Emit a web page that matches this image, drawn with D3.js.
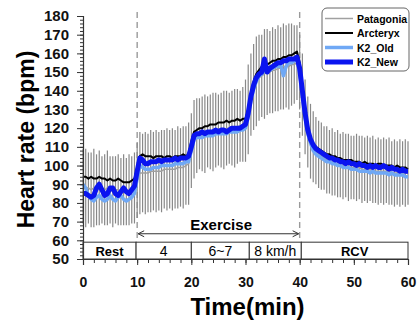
<!DOCTYPE html>
<html lang="en">
<head>
<meta charset="UTF-8">
<title>Heart rate</title>
<script src="https://d3js.org/d3.v7.min.js"></script>
<style>
  body { margin: 0; background: #fff; }
  svg { font-family: Arial, "Liberation Sans", sans-serif; }
</style>
</head>
<body>
<div id="chart"></div>
<script>
// samples every 0.5 min, from 0 to 60 min
var step = 0.5;

var patagonia = [
  89, 88, 88, 87, 88, 87, 88, 87, 87, 88, 87, 86, 87, 87, 86, 87, 86, 87, 87, 88,
  92, 96, 96, 96, 96, 97, 97, 97, 97, 97, 98, 98, 98, 98, 98, 99, 99, 99, 100, 101,
  108, 114, 116, 117, 117, 117, 118, 118, 118, 119, 119, 119, 119, 120, 120, 120, 120, 121, 121, 122,
  124, 130, 138, 142, 145, 147, 148, 149, 150, 150, 151, 151, 152, 152, 153, 153, 153, 154, 154, 155,
  150, 138, 126, 118, 113, 110, 108, 106, 105, 104, 103, 102, 102, 101, 101, 100, 100, 100, 99, 99,
  99, 99, 99, 98, 98, 98, 98, 98, 97, 97, 97, 97, 97, 97, 96, 96, 96, 96, 96, 96, 96
];
var patagoniaSD = [
  20, 21, 19, 20, 21, 19, 20, 18, 19, 20, 18, 19, 18, 19, 18, 19, 18, 19, 18, 19,
  20, 22, 21, 22, 21, 22, 21, 22, 21, 22, 21, 22, 21, 22, 21, 22, 21, 22, 21, 22,
  20, 21, 20, 19, 20, 21, 19, 20, 21, 20, 19, 20, 21, 20, 19, 20, 21, 20, 19, 20,
  22, 24, 22, 23, 24, 23, 22, 24, 23, 22, 23, 22, 23, 22, 23, 22, 23, 22, 21, 20,
  20, 22, 20, 19, 20, 19, 18, 18, 18, 17, 18, 17, 18, 17, 18, 17, 18, 17, 18, 17,
  17, 18, 17, 18, 17, 18, 17, 18, 17, 18, 17, 18, 17, 18, 17, 18, 17, 18, 17, 18, 17
];
var arcteryx = [
  94, 94, 93, 94, 93, 93, 94, 93, 93, 92, 93, 92, 92, 93, 92, 91, 91, 91, 92, 93,
  99, 105, 106, 105, 105, 105, 104, 105, 105, 105, 104, 105, 105, 104, 105, 105, 105, 106, 105, 106,
  113, 118, 119, 120, 120, 121, 121, 122, 122, 122, 123, 123, 123, 124, 123, 124, 124, 125, 124, 125,
  125, 130, 138, 145, 149, 151, 153, 154, 154, 155, 156, 156, 157, 157, 158, 158, 159, 159, 160, 161,
  155, 142, 129, 120, 114, 111, 110, 109, 108, 107, 106, 106, 105, 105, 104, 104, 103, 103, 103, 103,
  102, 102, 102, 101, 102, 101, 101, 101, 100, 101, 101, 100, 100, 100, 100, 99, 100, 99, 99, 99, 98
];
var k2Old = [
  90, 88, 84, 82, 81, 83, 84, 82, 81, 82, 84, 82, 81, 83, 84, 82, 81, 82, 83, 85,
  93, 100, 99, 98, 98, 98, 99, 99, 99, 100, 100, 100, 100, 100, 101, 101, 101, 101, 102, 102,
  108, 114, 115, 115, 115, 116, 116, 116, 116, 117, 117, 117, 117, 117, 118, 118, 118, 118, 119, 119,
  120, 126, 135, 141, 145, 148, 149, 151, 150, 151, 152, 153, 153, 154, 148, 153, 155, 155, 156, 157,
  150, 138, 126, 117, 112, 108, 106, 105, 104, 103, 102, 102, 101, 101, 100, 100, 99, 99, 99, 98,
  98, 98, 97, 97, 97, 97, 96, 97, 96, 96, 96, 96, 96, 95, 96, 95, 95, 95, 95, 94, 94
];
var k2New = [
  85, 85, 84, 83, 84, 88, 90, 87, 84, 85, 88, 88, 85, 84, 86, 88, 86, 85, 87, 89,
  97, 104, 103, 101, 101, 102, 102, 102, 103, 102, 103, 103, 103, 103, 104, 103, 104, 104, 104, 105,
  110, 116, 117, 117, 118, 117, 118, 118, 118, 119, 118, 119, 119, 118, 119, 120, 120, 120, 120, 121,
  122, 128, 137, 143, 147, 149, 150, 157, 150, 152, 153, 154, 155, 155, 156, 156, 157, 157, 157, 158,
  152, 140, 128, 119, 114, 111, 109, 108, 107, 106, 105, 104, 104, 103, 103, 102, 102, 101, 102, 101,
  101, 100, 101, 100, 100, 99, 100, 99, 100, 99, 99, 100, 99, 98, 99, 98, 98, 97, 98, 97, 97
];

var seriesNames = ["Patagonia", "Arcteryx", "K2_Old", "K2_New"];
var seriesColors = ["#a0a0a0", "#000000", "#6fa8f5", "#0a14f0"];
var seriesWidths = [1.5, 2, 3.5, 5];

var phaseLabels = ["Rest", "4", "6~7", "8 km/h", "RCV"];
var phaseStarts = [0, 9.8, 20, 30.7, 40.3];
var phaseEnds = [9.8, 20, 30.7, 40.3, 60];
var phaseBold = [true, false, false, false, true];

var xTicks = [0, 10, 20, 30, 40, 50, 60];
var yTicks = [50, 60, 70, 80, 90, 100, 110, 120, 130, 140, 150, 160, 170, 180];

var width = 418, height = 322;
var margin = {top: 16, right: 10, bottom: 63, left: 83};

var svg = d3.select("#chart").append("svg")
    .attr("width", width)
    .attr("height", height);

var x = d3.scaleLinear().domain([0, 60]).range([margin.left, width - margin.right]);
var y = d3.scaleLinear().domain([50, 180]).range([height - margin.bottom, margin.top]);

var times = patagonia.map((d, i) => i * step);

// dashed markers for exercise start / end
svg.append("g")
    .selectAll("line")
    .data([10, 40])
    .enter()
    .append("line")
    .attr("x1", d => x(d)).attr("x2", d => x(d))
    .attr("y1", margin.top - 4).attr("y2", y(59))
    .attr("stroke", "#9a9a9a")
    .attr("stroke-width", 1.4)
    .attr("stroke-dasharray", "6,4");

// error bars of Patagonia
svg.append("g")
    .selectAll("line")
    .data(times)
    .enter()
    .append("line")
    .attr("x1", d => x(d)).attr("x2", d => x(d))
    .attr("y1", (d, i) => y(patagonia[i] - patagoniaSD[i]))
    .attr("y2", (d, i) => y(patagonia[i] + patagoniaSD[i]))
    .attr("stroke", "#888")
    .attr("stroke-width", 1.2);

var line = d3.line()
    .x((d, i) => x(times[i]))
    .y(d => y(d));

var allSeries = [patagonia, arcteryx, k2Old, k2New];
svg.append("g")
    .selectAll("path")
    .data(allSeries)
    .enter()
    .append("path")
    .attr("d", d => line(d))
    .attr("fill", "none")
    .attr("stroke", (d, i) => seriesColors[i])
    .attr("stroke-width", (d, i) => seriesWidths[i])
    .attr("stroke-linejoin", "round");

// phase boxes
var phases = svg.append("g");
phases.selectAll("rect")
    .data(phaseLabels)
    .enter()
    .append("rect")
    .attr("x", (d, i) => x(phaseStarts[i]))
    .attr("width", (d, i) => x(phaseEnds[i]) - x(phaseStarts[i]))
    .attr("y", y(59))
    .attr("height", y(50) - y(59))
    .attr("fill", "white")
    .attr("stroke", "#333")
    .attr("stroke-width", 1);
phases.selectAll("text")
    .data(phaseLabels)
    .enter()
    .append("text")
    .attr("x", (d, i) => (x(phaseStarts[i]) + x(phaseEnds[i])) / 2)
    .attr("y", y(50) - 3)
    .attr("text-anchor", "middle")
    .attr("font-size", (d, i) => phaseBold[i] ? 13 : 14)
    .attr("font-weight", (d, i) => phaseBold[i] ? "bold" : "normal")
    .text(d => d);

// exercise arrow
var arrowY = y(63.5);
var ex = svg.append("g").attr("stroke", "#333").attr("stroke-width", 1).attr("fill", "none");
ex.append("line").attr("x1", x(10) + 1).attr("x2", x(40) - 1).attr("y1", arrowY).attr("y2", arrowY);
ex.append("path").attr("d", `M${x(10) + 7},${arrowY - 3}L${x(10) + 1},${arrowY}L${x(10) + 7},${arrowY + 3}`);
ex.append("path").attr("d", `M${x(40) - 7},${arrowY - 3}L${x(40) - 1},${arrowY}L${x(40) - 7},${arrowY + 3}`);
svg.append("text")
    .attr("x", x(25.5))
    .attr("y", arrowY - 4)
    .attr("text-anchor", "middle")
    .attr("font-size", 15)
    .attr("font-weight", "bold")
    .text("Exercise");

// axes
var yAxis = svg.append("g")
    .attr("transform", `translate(${margin.left},0)`)
    .call(d3.axisLeft(y).tickValues(yTicks).tickSize(6).tickPadding(8));
svg.append("g")
    .attr("transform", `translate(${margin.left},0)`)
    .call(d3.axisLeft(y).tickValues(d3.range(50, 181, 2)).tickSize(3).tickFormat(""))
    .select(".domain").remove();
var xAxis = svg.append("g")
    .attr("transform", `translate(0,${y(50)})`)
    .call(d3.axisBottom(x).tickValues(xTicks).tickSize(6).tickPadding(12));
svg.append("g")
    .attr("transform", `translate(0,${y(50)})`)
    .call(d3.axisBottom(x).tickValues(d3.range(0, 61, 2)).tickSize(4).tickFormat(""))
    .select(".domain").remove();

svg.selectAll(".domain").attr("stroke", "#333").attr("stroke-width", 1.2);
svg.selectAll(".tick line").attr("stroke", "#333");
yAxis.selectAll("text").attr("font-size", 15).attr("font-weight", "bold").attr("fill", "#111")
    .attr("font-family", "Arial, 'Liberation Sans', sans-serif");
xAxis.selectAll("text").attr("font-size", 14).attr("font-weight", "bold").attr("fill", "#111")
    .attr("font-family", "Arial, 'Liberation Sans', sans-serif");

// axis titles
svg.append("text")
    .attr("transform", `translate(34,${(y(180) + y(50)) / 2 + 2}) rotate(-90)`)
    .attr("text-anchor", "middle")
    .attr("font-size", 23)
    .attr("font-weight", "bold")
    .text("Heart rate (bpm)");
svg.append("text")
    .attr("x", (x(0) + x(60)) / 2 + 2)
    .attr("y", 315)
    .attr("text-anchor", "middle")
    .attr("font-size", 24)
    .attr("font-weight", "bold")
    .text("Time(min)");

// legend
var legend = svg.append("g").attr("transform", "translate(322,8)");
legend.append("rect")
    .attr("width", 87).attr("height", 63)
    .attr("rx", 5)
    .attr("fill", "white")
    .attr("stroke", "#666")
    .attr("stroke-width", 1);
var items = legend.selectAll("g.item")
    .data(seriesNames)
    .enter()
    .append("g")
    .attr("class", "item")
    .attr("transform", (d, i) => `translate(0,${10.5 + i * 14.5})`);
items.append("line")
    .attr("x1", 3).attr("x2", 31)
    .attr("stroke", (d, i) => seriesColors[i])
    .attr("stroke-width", (d, i) => seriesWidths[i]);
items.append("text")
    .attr("x", 35)
    .attr("y", 4)
    .attr("font-size", 10.5)
    .attr("font-weight", "bold")
    .text(d => d);
</script>
</body>
</html>
